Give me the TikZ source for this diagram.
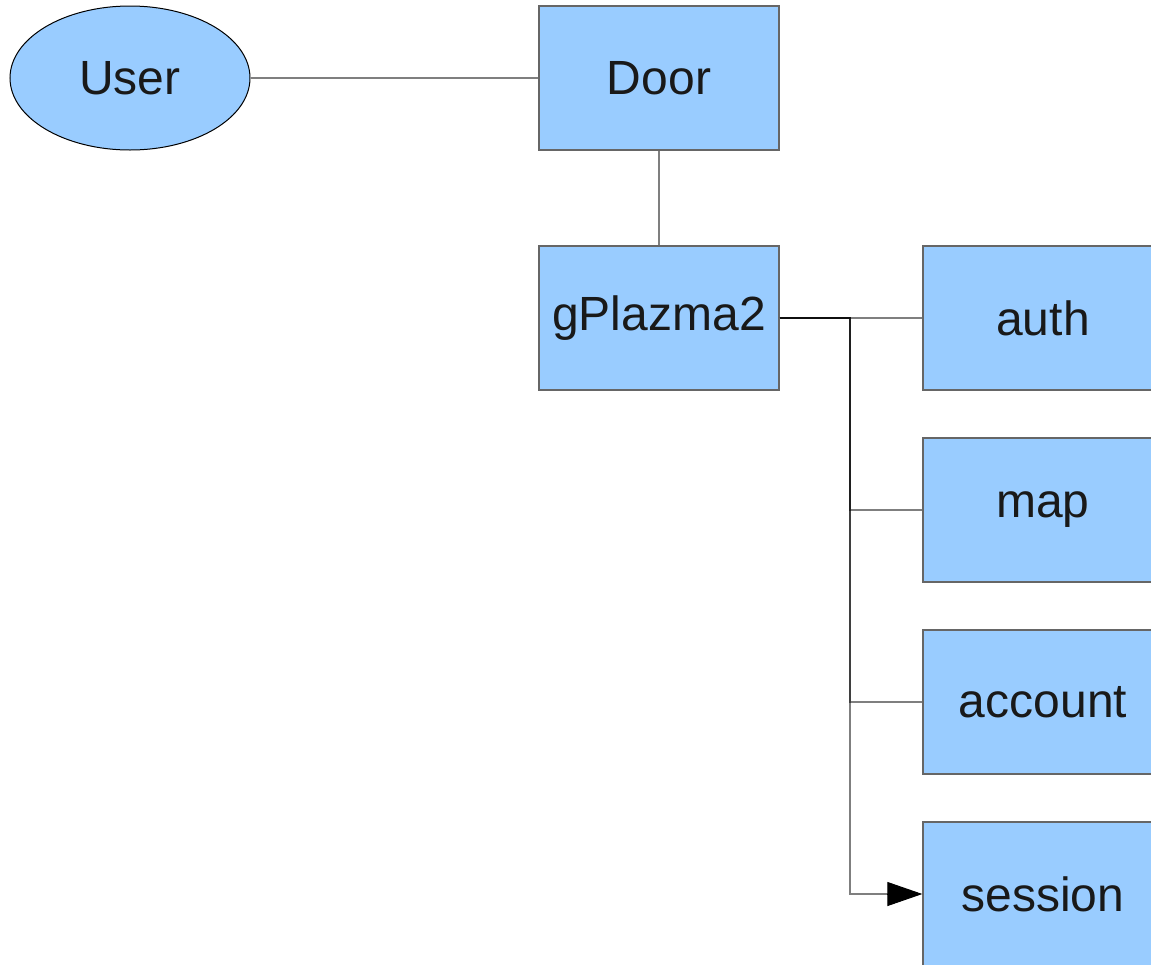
\documentclass[tikz,border=0pt]{standalone}
\usepackage{fontspec}
\setmainfont{Liberation Sans}
\usetikzlibrary{arrows.meta,shapes.geometric}
\definecolor{boxblue}{HTML}{99CCFF}
\definecolor{boxedge}{HTML}{666666}
\begin{document}
\begin{tikzpicture}[x=1pt,y=-1pt,
  blk/.style={rectangle,draw=boxedge,line width=1.3pt,fill=boxblue,minimum width=240pt,minimum height=144pt,inner sep=0pt,font=\fontsize{48}{52}\selectfont,text=black!90},
  usr/.style={ellipse,draw=black,line width=1pt,fill=boxblue,minimum width=240pt,minimum height=144pt,inner sep=0pt,font=\fontsize{48}{52}\selectfont,text=black!90},
  conn/.style={draw=black,draw opacity=0.5,line width=1.5pt},
  tip/.style={-{Triangle[length=35pt,width=24pt]}}]
\useasboundingbox (0,0) rectangle (1151,964);
\clip (0,0) rectangle (1151,964);
\fill[white] (0,0) rectangle (1151,964);
\node[usr] (user) at (130,78) {User};
\node[blk] (door) at (659,78) {Door};
\node[blk] (gp) at (659,318) {gPlazma2};
\node[blk] (auth) at (1043,318) {auth};
\node[blk] (map) at (1043,510) {map};
\node[blk] (acct) at (1043,702) {account};
\node[blk] (sess) at (1043,894) {session};
\draw[conn] (user) -- (door);
\draw[conn] (door) -- (gp);
\draw[conn] (gp.east) -- (auth.west);
\draw[conn] (gp.east) -- (850,318) |- (map.west);
\draw[conn] (gp.east) -- (850,318) |- (acct.west);
\draw[conn] (gp.east) -- (850,318) |- (888,894);
\draw[line width=1pt,tip] (887,894) -- (sess.west);
\end{tikzpicture}
\end{document}
